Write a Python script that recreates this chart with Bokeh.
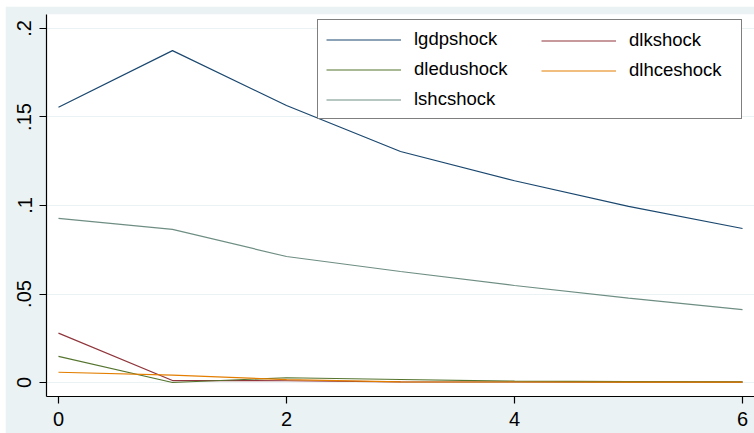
from bokeh.plotting import figure
from bokeh.models import Range1d, Legend, LegendItem, FixedTicker
from bokeh.embed import file_html
from bokeh.resources import INLINE

periods = [0, 1, 2, 3, 4, 5, 6]
lgdpshock = [0.1555, 0.1875, 0.1565, 0.1305, 0.1140, 0.0995, 0.0870]
dlkshock = [0.0279, 0.0011, 0.0010, 0.0004, 0.0003, 0.0002, 0.0002]
dledushock = [0.0148, 0.0000, 0.0027, 0.0017, 0.0008, 0.0005, 0.0004]
dlhceshock = [0.0058, 0.0042, 0.0016, 0.0004, 0.0003, 0.0002, 0.0002]
lshcshock = [0.0927, 0.0865, 0.0712, 0.0627, 0.0548, 0.0477, 0.0412]

x_ticks = [0, 2, 4, 6]
y_ticks = [0, 0.05, 0.1, 0.15, 0.2]
y_tick_labels = ["0", ".05", ".1", ".15", ".2"]

series = [
    ("lgdpshock", lgdpshock, "#1a476f"),
    ("dlkshock", dlkshock, "#90353b"),
    ("dledushock", dledushock, "#55752f"),
    ("dlhceshock", dlhceshock, "#e37e00"),
    ("lshcshock", lshcshock, "#6e8e84"),
]

BG = "#eaf2f3"
FONT = "Liberation Sans"

p = figure(width=749, height=427, output_backend="svg", toolbar_location=None,
           x_range=Range1d(-0.105, 6.105), y_range=Range1d(-0.0079, 0.2079),
           min_border_left=41, min_border_top=8, min_border_right=0,
           min_border_bottom=37)
p.margin = (6, 0, 0, 5)
p.border_fill_color = BG
p.background_fill_color = "white"
p.outline_line_color = None

renderers = {}
for name, vals, col in series:
    renderers[name] = p.line(periods, vals, line_color=col, line_width=1.2)

p.xaxis.ticker = FixedTicker(ticks=x_ticks)
p.yaxis.ticker = FixedTicker(ticks=y_ticks)
p.yaxis.major_label_overrides = {t: l for t, l in zip(y_ticks, y_tick_labels)}
p.yaxis.major_label_orientation = "vertical"
for ax in (p.xaxis, p.yaxis):
    ax.axis_line_color = "black"
    ax.axis_line_width = 1.2
    ax.major_tick_line_color = "black"
    ax.major_tick_line_width = 1.2
    ax.major_tick_out = 7
    ax.major_tick_in = 0
    ax.minor_tick_line_color = None
    ax.major_label_text_font = FONT
    ax.major_label_text_font_size = "20px"
    ax.major_label_text_color = "black"
p.xaxis.major_label_standoff = 8
p.yaxis.major_label_standoff = 8

p.xgrid.grid_line_color = None
p.ygrid.grid_line_color = BG
p.ygrid.grid_line_width = 1

def make_legend(names, loc, label_width, border):
    lg = Legend(items=[LegendItem(label=n, renderers=[renderers[n]]) for n in names],
                location=loc, orientation="vertical",
                label_text_font=FONT, label_text_font_size="18.5px",
                label_text_color="black", glyph_width=75, glyph_height=21,
                label_height=21, label_width=label_width, label_standoff=13,
                spacing=8, padding=8, margin=0)
    if border:
        lg.border_line_color = "black"
        lg.border_line_width = 1
        lg.background_fill_color = "white"
        lg.background_fill_alpha = 1
    else:
        lg.border_line_color = None
        lg.background_fill_alpha = 0
    return lg

legA = make_legend(["lgdpshock", "dledushock", "lshcshock"], (271, 277), 319, True)
legB = make_legend(["dlkshock", "dlhceshock"], (495, 315), 100, False)
p.add_layout(legA)
p.add_layout(legB)

open("out.html", "w").write(file_html(p, INLINE))
